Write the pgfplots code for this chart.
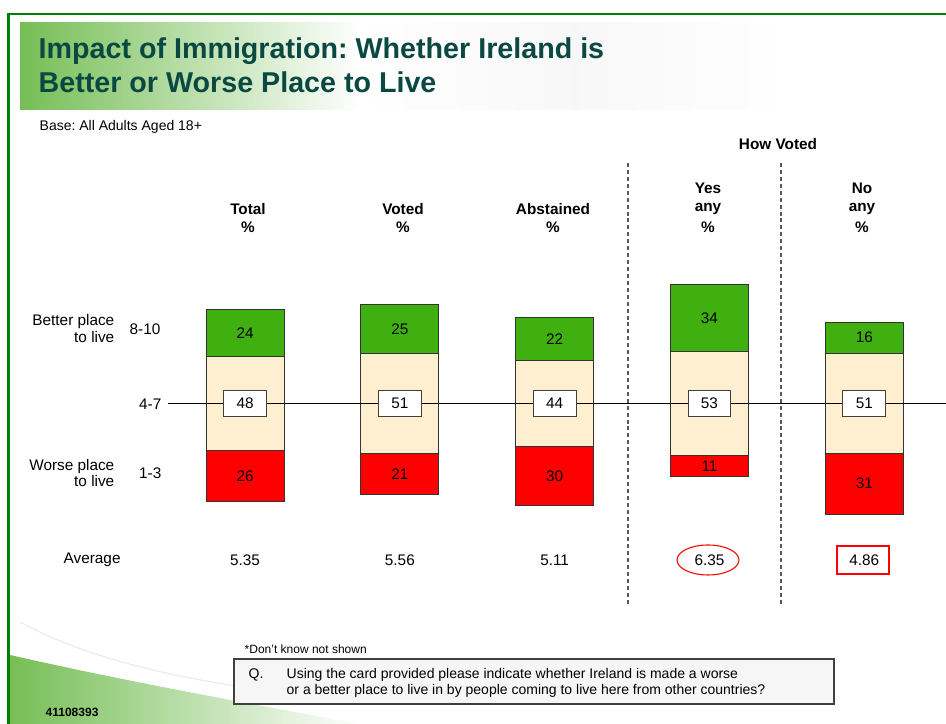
\documentclass[border=0pt]{standalone}
\usepackage{pgfplots}
\pgfplotsset{compat=1.18}
\usepackage{pgfplotstable}
\usepackage{fontspec}
\setmainfont{Liberation Sans}
\frenchspacing

\definecolor{barGreen}{RGB}{64,176,16}
\definecolor{barBeige}{RGB}{253,239,208}
\definecolor{barRed}{RGB}{255,0,0}
\definecolor{frameGreen}{RGB}{0,128,0}
\definecolor{titleTeal}{RGB}{10,72,66}
\definecolor{bannerGreen}{RGB}{118,190,86}

% r = worse (1-3), m = middle (4-7), g = better (8-10), avg = mean score
\pgfplotstableread{
x r m g avg
0 26 48 24 5.35
1 21 51 25 5.56
2 30 44 22 5.11
3 11 53 34 6.35
4 31 51 16 4.86
}\scores

\pgfplotsset{slide/.style={
  at={(0,0)}, anchor=south west, scale only axis,
  width=709.5pt, height=543pt,
  xmin=-1.583, xmax=4.528, ymin=-163.6, ymax=205.8,
  axis lines=none, clip=false}}

\begin{document}
\begin{tikzpicture}[font=\fontsize{11.5}{13.5}\selectfont]
\useasboundingbox (0,0) rectangle (709.5pt,543pt);
% background decoration, pixel coordinates (origin top left)
\begin{scope}[x=0.75pt,y=-0.75pt,shift={(0,543pt)}]
  \shade[left color=bannerGreen, right color=white] (20,23) rectangle (360,110);
  \shade[left color=white, right color=white, middle color=gray!6] (360,23) rectangle (790,110);
  \shade[left color=bannerGreen, right color=white]
    (10,655) .. controls (120,680) and (230,700) .. (360,724) -- (10,724) -- cycle;
  \draw[gray!15, line width=1pt] (20,622) .. controls (90,660) and (180,680) .. (300,695);
  \draw[frameGreen, line width=1.6pt] (8.5,730) -- (8.5,14.3) -- (950,14.3);
\end{scope}

\begin{axis}[slide, ybar stacked, stack negative=on previous, bar width=0.504]
  \addplot[draw=none, fill=none] table[x=x, y expr=-\thisrow{m}/2-\thisrow{r}] {\scores};
  \addplot[fill=barRed, draw=black!80, line width=0.75pt] table[x=x, y=r] {\scores};
  \addplot[fill=barBeige, draw=black!80, line width=0.75pt] table[x=x, y=m] {\scores};
  \addplot[fill=barGreen, draw=black!80, line width=0.75pt] table[x=x, y=g] {\scores};
\end{axis}

\begin{scope}[x=0.75pt,y=-0.75pt,shift={(0,543pt)}]
  \draw[black, line width=0.75pt] (168,403.3) -- (946,403.3);
  \draw[black!65, line width=0.9pt, dash pattern=on 3pt off 2.2pt] (628,163) -- (628,604);
  \draw[black!65, line width=0.9pt, dash pattern=on 3pt off 2.2pt] (781,163) -- (781,604);
\end{scope}

\begin{axis}[slide, every node near coord/.style={anchor=center, text=black}]
  \addplot[black, draw=none, mark=none, nodes near coords, point meta=explicit symbolic]
    table[x=x, y expr=\thisrow{m}/2+\thisrow{g}/2, meta=g] {\scores};
  \addplot[black, draw=none, mark=none, nodes near coords, point meta=explicit symbolic]
    table[x=x, y expr=-\thisrow{m}/2-\thisrow{r}/2, meta=r] {\scores};
  \addplot[black, draw=none, mark=none, nodes near coords, point meta=explicit symbolic,
    every node near coord/.append style={draw=black!75, fill=white, line width=0.75pt,
      minimum width=32pt, minimum height=20pt, inner sep=0pt}]
    table[x=x, y expr=0, meta=m] {\scores};
  \addplot[black, draw=none, mark=none, nodes near coords, point meta=explicit symbolic]
    table[x=x, y expr=-80, meta=avg] {\scores};
\end{axis}

\begin{scope}[x=0.75pt,y=-0.75pt,shift={(0,543pt)}]
  % title and base
  \node[anchor=west, text=titleTeal, font=\fontsize{21.5}{25.5}\selectfont\bfseries, align=left]
    at (34,65) {Impact of Immigration: Whether Ireland is\\Better or Worse Place to Live};
  \node[anchor=west, font=\fontsize{10.5}{12}\selectfont] at (35,127) {Base: All Adults Aged 18+};
  % column headers
  \begin{scope}[font=\fontsize{11.5}{13.5}\selectfont\bfseries]
    \node at (778,144) {How Voted};
    \node at (248,209) {Total};     \node at (248,227) {\%};
    \node at (403,209) {Voted};     \node at (403,227) {\%};
    \node at (553,209) {Abstained}; \node at (553,227) {\%};
    \node at (708,188) {Yes}; \node at (708,209) {any}; \node at (708,227) {\%};
    \node at (862,188) {No};  \node at (862,209) {any}; \node at (862,227) {\%};
  \end{scope}
  % row labels
  \node[anchor=east] at (119,322) {Better place};
  \node[anchor=east] at (119,337) {to live};
  \node[anchor=west] at (125,329) {8-10};
  \node[anchor=east] at (166,404) {4-7};
  \node[anchor=east] at (119,467) {Worse place};
  \node[anchor=east] at (119,481) {to live};
  \node[anchor=east] at (166,473) {1-3};
  \node[anchor=west] at (59,560) {Average};
  % highlights on averages
  \draw[barRed, line width=0.8pt] (708,560) ellipse [x radius=31, y radius=15];
  \draw[barRed, line width=0.8pt] (837,546) rectangle (889,574);
  % footnotes
  \node[anchor=west, font=\fontsize{9}{11}\selectfont] at (240,649) {*Don't know not shown};
  \draw[black!75, fill=gray!7, line width=0.8pt] (234,659) rectangle (834,704);
  \node[anchor=west, font=\fontsize{10.5}{12}\selectfont] at (244,675) {Q.};
  \node[anchor=west, font=\fontsize{10.5}{12}\selectfont] at (282,675)
    {Using the card provided please indicate whether Ireland is made a worse};
  \node[anchor=west, font=\fontsize{10.5}{12}\selectfont] at (282,691)
    {or a better place to live in by people coming to live here from other countries?};
  \node[anchor=west, font=\fontsize{9}{11}\selectfont\bfseries] at (41,712) {41108393};
\end{scope}
\end{tikzpicture}
\end{document}
